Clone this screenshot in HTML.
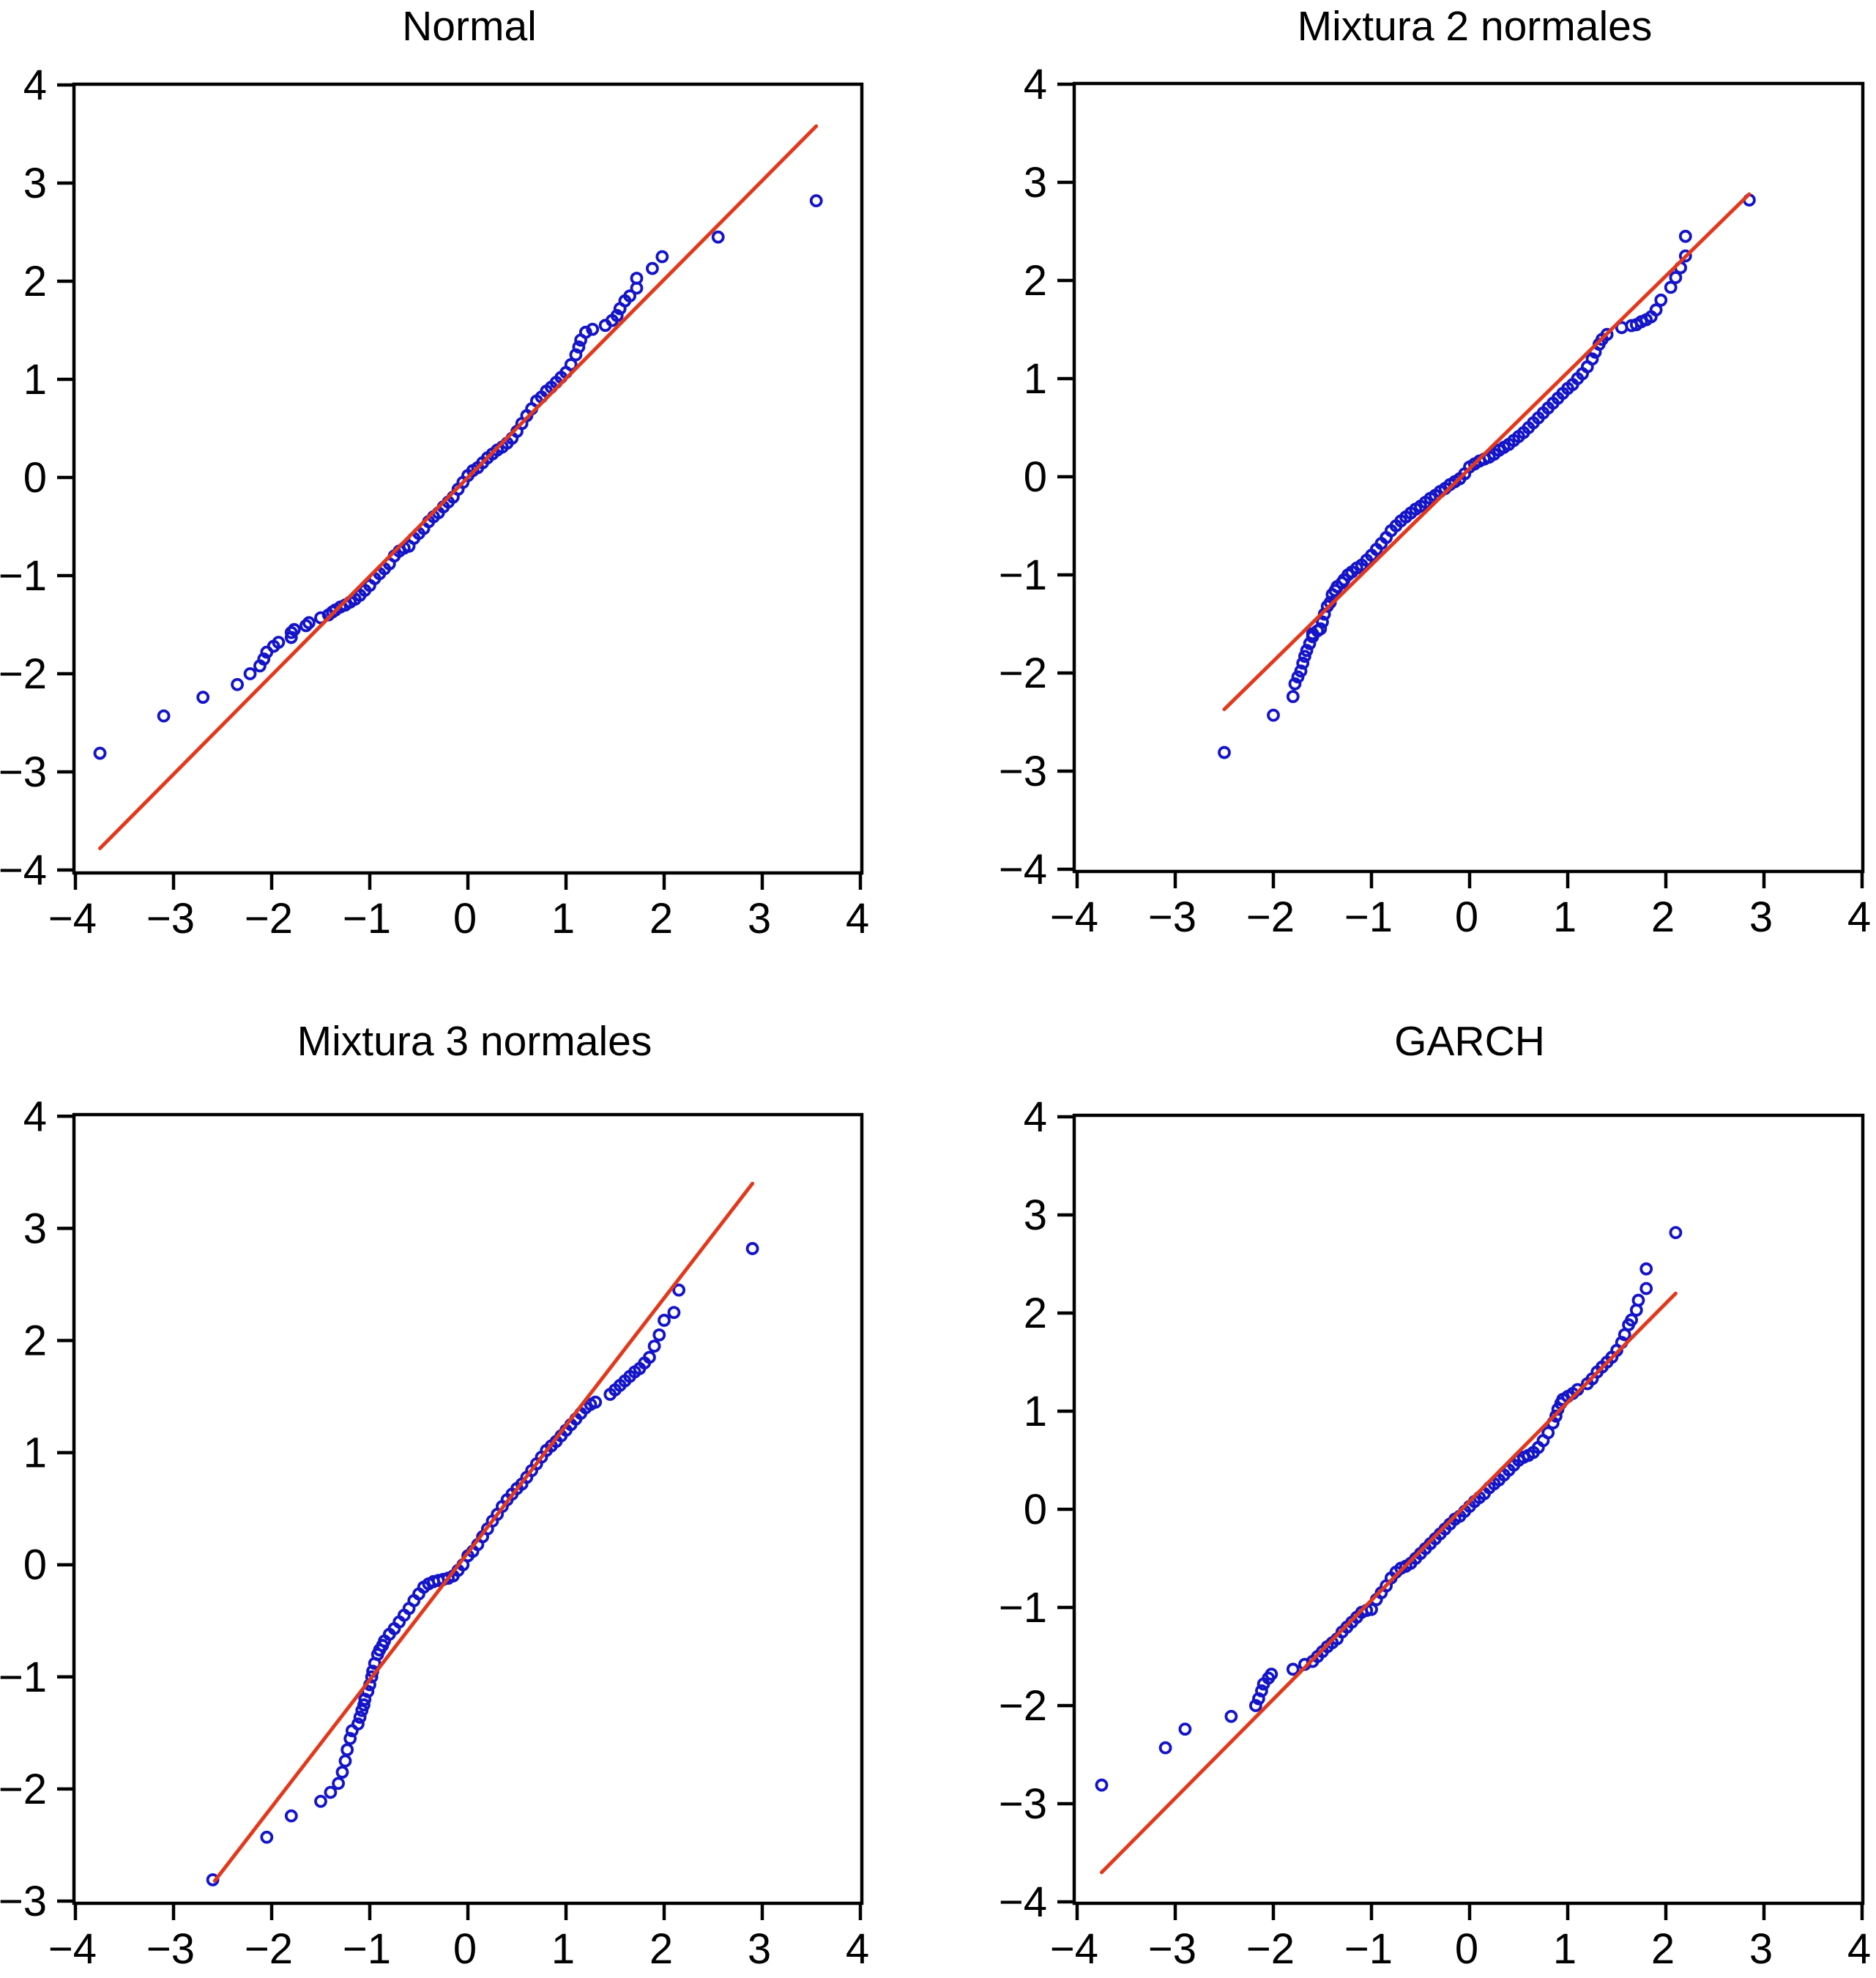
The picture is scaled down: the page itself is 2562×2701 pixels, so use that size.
<!DOCTYPE html>
<html><head><meta charset="utf-8"><style>
html,body{margin:0;padding:0;background:#fff;}
svg{display:block;}
text{font-family:"Liberation Sans",Arial,sans-serif;fill:#000;}
</style></head><body>
<svg id="chart" width="2562" height="2701" viewBox="0 0 2562 2701" xmlns="http://www.w3.org/2000/svg"></svg>
<script>
// ---- data ----
const titles = ["Normal", "Mixtura 2 normales", "Mixtura 3 normales", "GARCH"];
const xTicks = [-4, -3, -2, -1, 0, 1, 2, 3, 4];
const yTicksA = [-4, -3, -2, -1, 0, 1, 2, 3, 4];
const yTicksB = [-3, -2, -1, 0, 1, 2, 3, 4];

const line1 = [[-3.75, -3.78], [3.55, 3.58]];
const qx1 = [-3.75,-3.1,-2.7,-2.35,-2.22,-2.12,-2.08,-2.05,-1.98,-1.93,-1.8,-1.8,-1.77,-1.65,-1.62,-1.5,-1.42,-1.38,-1.35,-1.3,-1.25,
 -1.2,-1.15,-1.1,-1.05,-1.0,-0.95,-0.9,-0.85,-0.8,-0.75,-0.7,-0.65,-0.6,-0.55,-0.5,-0.45,-0.4,-0.35,-0.3,-0.25,-0.2,-0.15,-0.1,-0.05,
 0,0.05,0.1,0.15,0.2,0.25,0.3,0.35,0.4,0.45,0.5,0.55,0.6,0.65,0.7,0.75,0.8,0.85,0.9,0.95,1.0,1.05,1.1,1.13,1.15,1.2,1.27,
 1.4,1.47,1.52,1.55,1.6,1.65,1.72,1.72,1.88,1.98,2.55,3.55];
const qy1 = [-2.81,-2.43,-2.24,-2.11,-2.0,-1.92,-1.85,-1.78,-1.72,-1.68,-1.63,-1.58,-1.55,-1.51,-1.48,-1.43,-1.4,-1.37,-1.35,-1.32,-1.3,
 -1.27,-1.24,-1.2,-1.15,-1.1,-1.03,-0.98,-0.93,-0.88,-0.8,-0.75,-0.72,-0.7,-0.62,-0.57,-0.52,-0.45,-0.4,-0.36,-0.3,-0.25,-0.2,-0.12,-0.05,
 0.02,0.07,0.1,0.15,0.2,0.24,0.28,0.31,0.35,0.4,0.47,0.55,0.63,0.7,0.78,0.82,0.88,0.92,0.97,1.02,1.07,1.15,1.25,1.33,1.4,1.48,1.51,
 1.55,1.6,1.65,1.72,1.8,1.85,1.93,2.03,2.13,2.25,2.45,2.82];

const line2 = [[-2.5, -2.37], [2.85, 2.88]];
const qx2 = [-2.5,-2.0,-1.8,-1.78,-1.75,-1.72,-1.7,-1.68,-1.66,-1.63,-1.6,-1.6,-1.55,-1.52,-1.5,-1.48,-1.45,-1.42,-1.4,-1.37,-1.35,-1.3,-1.28,-1.24,-1.2,-1.15,-1.1,
 -1.05,-1.0,-0.95,-0.9,-0.85,-0.8,-0.75,-0.7,-0.65,-0.6,-0.55,-0.5,-0.45,-0.4,-0.35,-0.3,-0.25,-0.2,-0.15,-0.1,-0.05,
 0,0.05,0.1,0.15,0.2,0.25,0.3,0.35,0.4,0.45,0.5,0.55,0.6,0.65,0.7,0.75,0.8,0.85,0.9,0.95,1.0,1.05,1.1,1.15,1.2,1.25,1.28,1.32,1.35,1.4,
 1.55,1.65,1.7,1.75,1.8,1.85,1.9,1.95,2.05,2.1,2.15,2.2,2.2,2.85];
const qy2 = [-2.81,-2.43,-2.24,-2.11,-2.04,-1.98,-1.9,-1.83,-1.77,-1.7,-1.63,-1.6,-1.57,-1.55,-1.48,-1.4,-1.32,-1.28,-1.2,-1.16,-1.12,-1.08,-1.05,-1.0,-0.97,-0.93,-0.9,
 -0.85,-0.8,-0.74,-0.68,-0.62,-0.55,-0.5,-0.45,-0.41,-0.37,-0.33,-0.3,-0.26,-0.22,-0.19,-0.15,-0.12,-0.08,-0.05,-0.02,0.03,
 0.1,0.13,0.16,0.18,0.2,0.23,0.27,0.3,0.33,0.37,0.41,0.45,0.5,0.55,0.6,0.65,0.7,0.75,0.8,0.85,0.9,0.94,1.0,1.05,1.12,1.2,1.27,1.35,1.4,1.45,
 1.52,1.54,1.55,1.58,1.6,1.63,1.7,1.8,1.93,2.03,2.13,2.25,2.45,2.82];

const line3 = [[-2.58, -2.82], [2.9, 3.4]];
const qx3 = [-2.6,-2.05,-1.8,-1.5,-1.4,-1.32,-1.28,-1.25,-1.23,-1.2,-1.18,-1.12,-1.1,-1.08,-1.06,-1.05,-1.02,-1.0,-0.98,-0.97,-0.95,-0.92,-0.9,-0.87,-0.85,
 -0.8,-0.75,-0.7,-0.65,-0.6,-0.55,-0.5,-0.45,-0.4,-0.35,-0.3,-0.25,-0.2,-0.15,-0.1,-0.05,
 0,0.05,0.1,0.15,0.2,0.25,0.3,0.35,0.4,0.45,0.5,0.55,0.6,0.65,0.7,0.75,0.8,0.85,0.9,0.95,1.0,1.05,1.1,1.15,1.2,1.25,1.3,
 1.45,1.5,1.55,1.6,1.65,1.7,1.75,1.8,1.85,1.9,1.95,2.0,2.1,2.15,2.9];
const qy3 = [-2.81,-2.43,-2.24,-2.11,-2.03,-1.95,-1.85,-1.75,-1.65,-1.55,-1.48,-1.42,-1.36,-1.3,-1.25,-1.2,-1.13,-1.07,-1.0,-0.95,-0.88,-0.8,-0.76,-0.72,-0.68,
 -0.62,-0.57,-0.51,-0.45,-0.39,-0.32,-0.26,-0.2,-0.17,-0.15,-0.14,-0.13,-0.12,-0.1,-0.05,0.0,
 0.08,0.12,0.18,0.25,0.32,0.39,0.45,0.52,0.58,0.63,0.68,0.72,0.78,0.84,0.9,0.96,1.02,1.06,1.1,1.15,1.2,1.25,1.3,1.35,1.4,1.43,1.45,
 1.52,1.56,1.6,1.64,1.68,1.72,1.75,1.8,1.85,1.95,2.05,2.18,2.25,2.45,2.82];

const line4 = [[-3.75, -3.7], [2.1, 2.2]];
const qx4 = [-3.75,-3.1,-2.9,-2.43,-2.18,-2.15,-2.12,-2.1,-2.05,-2.02,-1.8,-1.68,-1.6,-1.55,-1.5,-1.45,-1.4,-1.35,-1.3,-1.25,-1.2,-1.15,-1.1,-1.05,
 -1.0,-0.95,-0.9,-0.85,-0.8,-0.75,-0.7,-0.65,-0.6,-0.55,-0.5,-0.45,-0.4,-0.35,-0.3,-0.25,-0.2,-0.15,-0.1,-0.05,
 0,0.05,0.1,0.15,0.2,0.25,0.3,0.35,0.4,0.45,0.5,0.55,0.6,0.65,0.7,0.75,0.8,0.85,0.88,0.9,0.93,0.95,1.0,1.05,1.1,1.2,1.25,1.3,1.35,1.4,1.45,
 1.5,1.55,1.58,1.62,1.65,1.7,1.72,1.8,1.8,2.1];
const qy4 = [-2.81,-2.43,-2.24,-2.11,-2.0,-1.93,-1.85,-1.78,-1.72,-1.68,-1.63,-1.58,-1.55,-1.5,-1.45,-1.4,-1.36,-1.32,-1.25,-1.2,-1.15,-1.1,-1.05,-1.03,
 -1.02,-0.92,-0.85,-0.78,-0.7,-0.64,-0.6,-0.58,-0.55,-0.5,-0.45,-0.4,-0.35,-0.3,-0.25,-0.2,-0.15,-0.1,-0.07,-0.02,
 0.03,0.08,0.12,0.16,0.22,0.26,0.3,0.35,0.4,0.45,0.5,0.53,0.55,0.58,0.63,0.7,0.78,0.88,0.95,1.02,1.08,1.12,1.15,1.18,1.22,1.28,1.33,1.4,1.45,1.5,1.55,
 1.62,1.7,1.78,1.88,1.93,2.03,2.13,2.25,2.45,2.82];

// ---- layout ----
const NS = "http://www.w3.org/2000/svg";
const svg = document.getElementById("chart");
function mk(tag, attrs, parent) {
  const e = document.createElementNS(NS, tag);
  for (const k in attrs) e.setAttribute(k, attrs[k]);
  (parent || svg).appendChild(e);
  return e;
}
const panels = [
  {x0:103, ux:134, yb:1188, yMin:-4, uy:134, fl:101, fr:1177, ft:115, fb:1192, ty:55, tx:641, yt:yTicksA, qx:qx1, qy:qy1, ln:line1},
  {x0:1471, ux:134, yb:1187, yMin:-4, uy:134, fl:1467, fr:2544, ft:114, fb:1190, ty:55, tx:2014, yt:yTicksA, qx:qx2, qy:qy2, ln:line2},
  {x0:103, ux:134, yb:2596, yMin:-3, uy:153.1, fl:101, fr:1177, ft:1522, fb:2599, ty:1441, tx:648, yt:yTicksB, qx:qx3, qy:qy3, ln:line3},
  {x0:1471, ux:134, yb:2597, yMin:-4, uy:134, fl:1467, fr:2544, ft:1523, fb:2599, ty:1441, tx:2007, yt:yTicksA, qx:qx4, qy:qy4, ln:line4}
];
const fmt = v => v < 0 ? "\u2212" + Math.abs(v) : String(v);

panels.forEach((p, i) => {
  const xs = v => p.x0 + (v + 4) * p.ux;
  const ys = v => p.yb - (v - p.yMin) * p.uy;
  const g = mk("g", {});
  
  

  const t = mk("text", {x:p.tx, y:p.ty, "font-size":57, "text-anchor":"middle"}, g);
  t.textContent = titles[i];
  
  

  const fr = mk("rect", {x:p.fl, y:p.ft, width:p.fr - p.fl, height:p.fb - p.ft, fill:"none", stroke:"#000", "stroke-width":4.5}, g);
  
  

  xTicks.forEach(v => {
    const x = xs(v);
    const tk = mk("line", {x1:x, x2:x, y1:p.fb, y2:p.fb + 23, stroke:"#000", "stroke-width":4.5}, g);
    
    
    const lb = mk("text", {x:x - 4, y:p.fb + 82, "font-size":58, "text-anchor":"middle"}, g);
    lb.textContent = fmt(v);
    
    
  });
  p.yt.forEach(v => {
    const y = ys(v);
    const tk = mk("line", {x1:p.fl - 23, x2:p.fl, y1:y, y2:y, stroke:"#000", "stroke-width":4.5}, g);
    
    
    const lb = mk("text", {x:p.fl - 37, y:y + 20, "font-size":58, "text-anchor":"end"}, g);
    lb.textContent = fmt(v);
    
    
  });

  for (let k = 0; k < p.qx.length; k++) {
    const c = mk("circle", {cx:xs(p.qx[k]), cy:ys(p.qy[k]), r:7, fill:"none", stroke:"#1414c8", "stroke-width":3.8}, g);
    
    
  }
  const rl = mk("line", {x1:xs(p.ln[0][0]), y1:ys(p.ln[0][1]), x2:xs(p.ln[1][0]), y2:ys(p.ln[1][1]), stroke:"#e2391c", "stroke-width":5, "stroke-linecap":"round"}, g);
  
  
});
</script>
</body></html>
